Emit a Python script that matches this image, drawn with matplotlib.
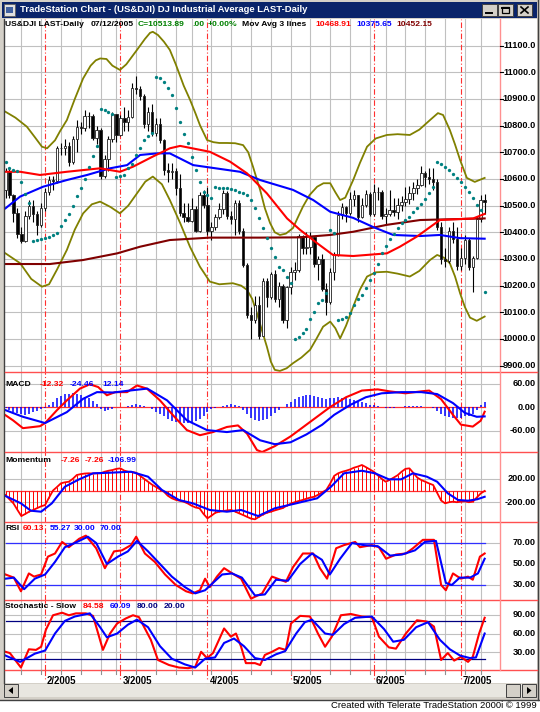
import numpy as np
import pandas as pd
import matplotlib
matplotlib.use("Agg")
import matplotlib.pyplot as plt
from matplotlib.patches import Rectangle, Polygon

plt.rcParams['font.family'] = ['Liberation Sans', 'DejaVu Sans']

W, H = 540, 712

# trading days shown (DJIA, 18 Jan - 12 Jul 2005)
holidays = ["2005-02-21", "2005-03-25", "2005-05-30", "2005-07-04"]
dates = pd.bdate_range("2005-01-18", "2005-07-12")
dates = dates[~dates.isin(pd.to_datetime(holidays))]

opens = [10558, 10629, 10540, 10471, 10393, 10369, 10462, 10499, 10467, 10427,
         10490, 10552, 10597, 10593, 10716, 10716, 10725, 10664, 10750, 10796,
         10791, 10837, 10835, 10754, 10785, 10611, 10674, 10749, 10842, 10766,
         10830, 10812, 10833, 10941, 10937, 10913, 10806, 10852, 10774, 10805,
         10745, 10633, 10626, 10630, 10565, 10471, 10456, 10443, 10486, 10406,
         10541, 10504, 10404, 10421, 10458, 10486, 10546, 10461, 10449, 10508,
         10404, 10279, 10088, 10071, 10127, 10012, 10219, 10158, 10242, 10151,
         10199, 10070, 10193, 10252, 10257, 10385, 10340, 10345, 10384, 10281,
         10300, 10189, 10140, 10252, 10313, 10464, 10493, 10472, 10524, 10538,
         10458, 10503, 10543, 10467, 10550, 10553, 10461, 10467, 10483, 10477,
         10503, 10513, 10523, 10548, 10566, 10579, 10623, 10609, 10600, 10588,
         10421, 10298, 10291, 10406, 10374, 10275, 10303, 10372, 10271, 10302,
         10449, 10520]
highs = [10640, 10640, 10545, 10490, 10420, 10480, 10520, 10520, 10480, 10510,
         10565, 10610, 10610, 10725, 10735, 10750, 10740, 10760, 10820, 10815,
         10860, 10850, 10845, 10800, 10790, 10690, 10760, 10850, 10845, 10840,
         10870, 10860, 10960, 10985, 10950, 10920, 10870, 10880, 10830, 10830,
         10750, 10660, 10660, 10640, 10620, 10510, 10510, 10530, 10500, 10550,
         10560, 10570, 10440, 10470, 10510, 10560, 10555, 10480, 10520, 10520,
         10415, 10285, 10120, 10160, 10160, 10230, 10230, 10250, 10260, 10215,
         10205, 10200, 10270, 10290, 10395, 10390, 10400, 10400, 10385, 10310,
         10320, 10210, 10265, 10325, 10480, 10510, 10500, 10550, 10560, 10540,
         10530, 10560, 10550, 10580, 10570, 10560, 10490, 10560, 10530, 10530,
         10535, 10570, 10575, 10590, 10600, 10650, 10630, 10640, 10640, 10600,
         10440, 10340, 10420, 10440, 10420, 10340, 10390, 10380, 10310, 10460,
         10540, 10545]
lows = [10530, 10530, 10440, 10380, 10360, 10365, 10450, 10440, 10390, 10420,
        10480, 10540, 10560, 10585, 10690, 10690, 10650, 10655, 10700, 10770,
        10780, 10790, 10745, 10730, 10600, 10605, 10630, 10740, 10740, 10760,
        10780, 10780, 10830, 10920, 10895, 10790, 10780, 10760, 10760, 10735,
        10615, 10590, 10600, 10540, 10460, 10440, 10440, 10440, 10400, 10400,
        10490, 10390, 10370, 10410, 10450, 10470, 10450, 10430, 10390, 10395,
        10270, 10080, 10000, 10060, 10000, 10010, 10120, 10150, 10140, 10120,
        10060, 10040, 10170, 10220, 10250, 10320, 10320, 10320, 10270, 10220,
        10180, 10090, 10130, 10220, 10310, 10450, 10440, 10465, 10500, 10440,
        10455, 10495, 10460, 10460, 10520, 10450, 10430, 10460, 10460, 10450,
        10480, 10500, 10505, 10520, 10545, 10575, 10570, 10580, 10560, 10410,
        10280, 10270, 10285, 10360, 10260, 10260, 10280, 10260, 10175, 10300,
        10440, 10470]
closes = [10629, 10540, 10471, 10393, 10369, 10462, 10499, 10467, 10427, 10490,
          10552, 10597, 10593, 10716, 10716, 10725, 10664, 10750, 10796, 10791,
          10837, 10835, 10754, 10785, 10611, 10674, 10749, 10842, 10766, 10830,
          10812, 10833, 10941, 10937, 10913, 10806, 10852, 10774, 10805, 10745,
          10633, 10626, 10630, 10565, 10471, 10456, 10443, 10486, 10406, 10541,
          10504, 10404, 10421, 10458, 10486, 10546, 10461, 10449, 10508, 10404,
          10279, 10088, 10071, 10127, 10012, 10219, 10158, 10242, 10151, 10199,
          10070, 10193, 10252, 10257, 10385, 10340, 10345, 10384, 10281, 10300,
          10189, 10140, 10252, 10313, 10464, 10493, 10472, 10524, 10538, 10458,
          10503, 10543, 10467, 10550, 10553, 10461, 10467, 10483, 10477, 10503,
          10513, 10523, 10548, 10566, 10579, 10623, 10609, 10600, 10588, 10421,
          10298, 10291, 10406, 10374, 10275, 10303, 10372, 10271, 10302, 10449,
          10520, 10514]

# parabolic SAR dots, one per bar
sar = [10665, 10642, 10635, 10630, 10588, 10545, 10509, 10368, 10371, 10374,
       10378, 10382, 10388, 10398, 10425, 10445, 10470, 10500, 10535, 10565,
       10600, 10645, 10685, 10725, 10862, 10858, 10852, 10845, 10609, 10611,
       10614, 10640, 10655, 10690, 10715, 10745, 10760, 10771, 10984, 10978,
       10965, 10941, 10915, 10866, 10814, 10770, 10735, 10684, 10634, 10590,
       10552, 10540, 10530, 10571, 10568, 10566, 10566, 10563, 10558, 10552,
       10546, 10540, 10521, 10491, 10454, 10416, 10378, 10341, 10309, 10271,
       10259, 10234, 10209, 9999, 10009, 10021, 10036, 10074, 10102, 10134,
       10146, 10172, 10409, 10398, 10070, 10074, 10083, 10098, 10127, 10150,
       10165, 10190, 10220, 10246, 10280, 10321, 10350, 10375, 10395, 10415,
       10434, 10445, 10459, 10475, 10490, 10505, 10525, 10546, 10570, 10662,
       10655, 10645, 10634, 10620, 10605, 10590, 10570, 10552, 10527, 10502,
       10485, 10177]

# bands and moving averages (bar index, value)
ub_x = [0, 2.5, 5.4, 7.5, 9.2, 10.5, 12.5, 13.8, 15.5, 17.5, 19.6, 21.5, 22.8, 23.9, 25.5, 27, 28.9, 30.5,
        33.2, 35.2, 36.5, 37.2, 38.5, 40, 41.5, 43, 45, 46.6, 48, 49.1, 50.9, 52.5, 54, 56, 58, 60, 61.3,
        62.5, 64.3, 65.5, 66.8, 68, 69.3, 70.8, 72.6, 73.8, 75.1, 76.8, 78.7, 80.3, 82, 83.3, 84.5, 85.8,
        87.8, 89.5, 91.3, 93.5, 96.3, 99, 102.1, 104.5, 107.2, 109.2, 110.5, 112.2, 113.5, 114.8, 116.5,
        118.5, 121]
ub_y = [10852, 10830, 10796, 10755, 10721, 10715, 10745, 10780, 10821, 10900, 10977, 11025, 11045, 11052,
        11050, 11025, 11009, 11030, 11084, 11125, 11148, 11152, 11140, 11115, 11084, 11030, 10950, 10897,
        10845, 10802, 10746, 10738, 10735, 10735, 10734, 10727, 10700, 10646, 10559, 10490, 10435, 10400,
        10390, 10395, 10416, 10455, 10496, 10540, 10571, 10584, 10584, 10550, 10521, 10530, 10596, 10660,
        10721, 10752, 10765, 10768, 10765, 10785, 10821, 10847, 10840, 10784, 10730, 10671, 10604, 10589,
        10604]
lb_x = [0, 3.7, 6.5, 9.2, 11, 13, 15.5, 17.5, 19.6, 21.8, 23.9, 26.5, 28.9, 31, 33.2, 35.3, 37.2, 39.5, 41.5,
        44.1, 46.6, 49.1, 51.6, 54, 57.4, 59.5, 61, 62.3, 63.5, 64.8, 66, 67, 68, 69.3, 71, 72.6, 74.7, 76.9,
        78.5, 80.2, 82, 83.3, 84.5, 86, 87.8, 89.5, 91.3, 93.5, 96.3, 99, 102.1, 104.5, 107.2, 109, 110.7,
        112.2, 113.5, 114.8, 116, 117.3, 119, 121]
lb_y = [10321, 10284, 10225, 10196, 10205, 10260, 10334, 10410, 10471, 10505, 10515, 10495, 10471, 10500,
        10546, 10590, 10609, 10580, 10521, 10435, 10345, 10271, 10215, 10205, 10209, 10200, 10184, 10150,
        10096, 10030, 9971, 9915, 9884, 9880, 9890, 9909, 9930, 9959, 10000, 10046, 10065, 10040, 10002,
        10050, 10121, 10185, 10234, 10250, 10252, 10245, 10234, 10255, 10296, 10315, 10305, 10284, 10235,
        10171, 10120, 10080, 10068, 10084]
mb_x = [0, 3.7, 9.5, 15.5, 20.6, 26.4, 30.7, 34, 38.3, 41.5, 47.4, 59.2, 64.3, 72.6, 77.7, 82, 87.8, 92.8, 97.9,
        104.7, 109.7, 114.8, 121]
mb_y = [10490, 10534, 10571, 10596, 10615, 10640, 10652, 10690, 10696, 10696, 10652, 10627, 10596, 10559, 10521,
        10477, 10454, 10420, 10390, 10386, 10390, 10378, 10376]
mr_x = [0, 3.7, 8.7, 15.5, 23.9, 28.9, 32.2, 37.2, 41.5, 44.1, 51.6, 56.7, 61, 66, 71.1, 74.4, 78.7, 82.7, 87.8,
        96.3, 99.6, 103.9, 108, 109.7, 118.1, 121]
mr_y = [10627, 10627, 10615, 10627, 10640, 10627, 10646, 10684, 10715, 10724, 10702, 10665, 10621, 10546, 10452,
        10409, 10359, 10315, 10311, 10321, 10346, 10384, 10428, 10446, 10452, 10469]
md_x = [0, 11.2, 19.6, 28.2, 34, 41.5, 51.6, 64.3, 74.4, 82, 87.8, 96.3, 104.7, 109.7, 121]
md_y = [10281, 10281, 10296, 10321, 10346, 10371, 10380, 10380, 10381, 10390, 10402, 10428, 10446, 10448, 10452]

# MACD
macd_x = [0, 1.9, 4.4, 8.7, 10, 13, 15.5, 18.8, 21.3, 23.4, 25.6, 27.7, 30.7, 33.2, 35.7, 39, 42.3, 45.8, 49.1,
          52.4, 55.9, 58.7, 61, 63.5, 64.8, 68, 72, 76, 80, 82, 86, 90, 94, 97, 101, 105, 107, 110, 113, 115, 118,
          120, 121]
macd_y = [-21, -34, -54, -49, -41, -8, 17, 47, 58, 51, 30, 38, 38, 55, 47, 17, -21, -59, -72, -64, -51, -47, -68,
          -110, -115, -100, -75, -45, -15, 0, 25, 42, 45, 40, 35, 40, 42, 20, -20, -45, -50, -35, -12]
sig_x = [0, 4.4, 10, 15.5, 19.6, 23.1, 27.2, 32.2, 35.8, 40.8, 45.8, 50.9, 55.9, 60, 64.3, 68, 72, 76, 80, 83,
         87, 91, 95, 100, 105, 109, 113, 116, 119, 121]
sig_y = [-8, -25, -41, -13, 21, 38, 37, 43, 47, 17, -34, -59, -64, -59, -85, -95, -90, -70, -45, -20, 5, 25, 35,
         38, 38, 33, 10, -15, -25, -24]
macd_hist = [-3, -8, -12, -15, -18, -20, -18, -14, -10, -6, -2, 6, 14, 22, 28, 32, 34, 35, 34, 30,
             26, 22, 16, 8, -6, -9, -8, -4, -1, 0, 1, 2, 5, 7, 6, 2, 0, -5, -12, -18,
             -24, -30, -35, -38, -40, -42, -42, -40, -36, -30, -22, -14, -6, -2, 0, 3, 6, 7, 5, 2,
             -8, -18, -28, -34, -36, -34, -30, -24, -16, -8, 0, 8, 14, 20, 26, 28, 30, 30, 28, 26,
             22, 20, 22, 24, 26, 24, 22, 20, 18, 14, 12, 10, 6, 4, 2, 0, -2, -3, -2, 0,
             1, 2, 3, 3, 2, 2, 1, 0, -2, -10, -18, -24, -26, -27, -28, -27, -24, -22, -18, -8,
             4, 12]

# Momentum (per bar) and its average
momentum = [-77, -150, -219, -330, -436, -400, -360, -333, -300, -270, -248, -120, 0, 60, 123, 140, 150, 200, 265, 280,
            290, 294, 290, 294, 294, 320, 338, 350, 370, 379, 340, 321, 315, 304, 250, 200, 150, 100, 60, 20,
            -20, -90, -133, -160, -175, -191, -220, -260, -290, -304, -400, -475, -430, -380, -362, -350, -340, -333, -360, -390,
            -419, -450, -480, -492, -450, -410, -380, -362, -340, -320, -300, -260, -225, -200, -180, -162, -140, -120, -106, -70,
            -30, 9, 120, 250, 294, 320, 338, 360, 390, 410, 436, 400, 360, 321, 260, 200, 150, 180, 220, 260,
            320, 370, 379, 300, 220, 179, 150, 120, 94, -40, -170, -219, -200, -191, -200, -190, -185, -200, -191, -120,
            -50, -7]
mom_x = [0, 3.9, 6.4, 9, 11.7, 15, 18.6, 22.1, 26.4, 31.7, 36, 39.5, 43.8, 47.3, 51.6, 55.9, 59.5, 63.8, 68, 73.4,
         78.7, 82.2, 85.5, 90, 93.3, 96.8, 99.9, 102.9, 106.4, 109, 111.7, 114.3, 116.8, 119.1, 121]
mom_y = [-94, -219, -345, -362, -219, 65, 191, 294, 304, 321, 236, 9, -162, -219, -333, -362, -333, -436, -304, -219,
         -133, 65, 294, 338, 294, 191, 191, 294, 236, 150, -48, -162, -174, -150, -107]

# RSI
rsi_x = [0, 2.1, 3.9, 5.9, 7.2, 9, 10.7, 12.5, 14.3, 16, 18.6, 20.3, 22.9, 25.1, 27.4, 29.4, 31.7, 33, 35.2, 37.7,
         40.3, 43, 45.6, 47.3, 49.1, 50.4, 51.6, 53.4, 55.2, 57.7, 59.5, 62, 64.8, 67.3, 70.8, 72.6, 75.1, 77.7, 79.4,
         81.2, 83.5, 85.5, 88.3, 89.5, 92.5, 94.3, 96.1, 98.6, 101.1, 102.9, 105.4, 108.2, 110, 111.2, 113, 115,
         116.8, 118, 119.8, 121]
rsi_y = [40, 37, 24, 41, 38, 40, 57, 60, 71, 66, 74, 77, 65, 46, 62, 63, 68, 76, 60, 52,
         40, 30, 24, 22, 25, 36, 28, 38, 46, 40, 36, 17, 22, 38, 33, 47, 60, 60, 46,
         36, 65, 68, 71, 66, 68, 66, 55, 59, 60, 65, 73, 73, 30, 25, 41, 36,
         38, 35, 57, 60]
rsa_x = [0, 2.1, 4.7, 7.4, 10, 12.5, 15, 17.5, 20.8, 22.9, 25.6, 28.4, 30.9, 33.2, 36, 39, 42, 45.3, 47.9, 50.4,
         52.1, 54.7, 57.2, 59.7, 63, 65.5, 68.3, 71.3, 74.4, 77.4, 79.9, 81.9, 84.5, 87.5, 90.5, 94, 97.1, 100.1,
         103.4, 105.9, 108.7, 111.2, 112.7, 114.7, 117.3, 119.3, 121]
rsa_y = [36, 37, 26, 36, 40, 52, 66, 70, 76, 70, 50, 57, 62, 72, 62, 50, 38, 28, 22, 25,
         31, 40, 41, 37, 20, 21, 35, 34, 50, 60, 54, 40, 55, 70, 68, 67, 58, 59,
         63, 71, 72, 32, 30, 37, 37, 41, 55]

# Stochastic slow
stk_x = [0, 1.1, 3.9, 5.9, 7.7, 9, 10.2, 12, 14.3, 16, 17.8, 20.3, 22.1, 23.4, 24.6, 26.4, 28.2, 30.4, 32.2, 33.7,
         35.2, 36.7, 38.5, 41.3, 43.8, 46.1, 47.9, 49.4, 50.9, 52.4, 55.2, 56.9, 58.2, 59.5, 60.7, 63, 64.3, 65.5,
         67.3, 69.1, 70.8, 72.1, 74.4, 76.9, 78.9, 80.7, 82.4, 84.7, 87.2, 90, 92.5, 94.3, 96.8, 98.6, 101.1, 103.9,
         106.4, 108.2, 110, 111.7, 113.3, 115, 116.8, 118, 119.6, 121]
stk_y = [31, 29, 6, 35, 34, 39, 66, 89, 93, 89, 92, 92, 88, 60, 34, 60, 76, 84, 89, 86,
         68, 50, 18, 10, 6, 5, 7, 31, 21, 29, 68, 55, 60, 39, 13, 13, 10, 26,
         31, 37, 34, 76, 88, 87, 60, 39, 55, 89, 91, 87, 86, 55, 38, 36, 60, 81,
         79, 71, 18, 29, 17, 23, 15, 23, 60, 85]
std_x = [0, 3.7, 7.4, 10, 12.5, 15, 17.5, 21.3, 23.9, 25.6, 28.2, 30.9, 33.2, 36, 39, 42, 45.3, 47.9, 50.4, 52.9,
         55.2, 57.7, 60.2, 63, 65.5, 68.3, 70.6, 73.4, 75.6, 77.4, 80.7, 82.7, 85.5, 88.3, 92.5, 95.6, 97.9, 100.6,
         103.7, 106.7, 109.7, 112.2, 114.8, 117.3, 118.8, 121]
std_y = [25, 15, 28, 33, 60, 80, 87, 92, 70, 54, 60, 74, 82, 70, 40, 20, 11, 6, 20, 22,
         45, 52, 40, 21, 18, 27, 32, 60, 78, 82, 60, 58, 75, 85, 87, 67, 47, 50,
         70, 78, 50, 35, 25, 21, 22, 60]

month_labels = ["2/2005", "3/2005", "4/2005", "5/2005", "6/2005", "7/2005"]

# ---------------------------------------------------------------- layout
fig = plt.figure(figsize=(W / 100, H / 100), dpi=100)
fig.patch.set_facecolor("white")
bg = fig.add_axes([0, 0, 1, 1], zorder=-10)
bg.set_xlim(0, W); bg.set_ylim(H, 0); bg.axis("off")
ov = fig.add_axes([0, 0, 1, 1], zorder=10)
ov.set_xlim(0, W); ov.set_ylim(H, 0); ov.axis("off"); ov.patch.set_alpha(0)

X0, X1 = 5, 500
STEP, OFF = 3.96, 5.5
xlim = ((X0 - OFF) / STEP, (X1 - OFF) / STEP)

panels = {
    "price": (19, 372, 9876, 11200),
    "macd": (372, 452, -114.9, 89.4),
    "mom": (452, 522, -538, 658),
    "rsi": (522, 600, 15.7, 90.0),
    "stoch": (600, 670, 2.1, 113.2),
}


def make_ax(name):
    y0, y1, lo, hi = panels[name]
    ax = fig.add_axes([X0 / W, 1 - y1 / H, (X1 - X0) / W, (y1 - y0) / H])
    ax.set_xlim(*xlim); ax.set_ylim(lo, hi)
    ax.axis("off")
    return ax


def ypx(name, v):
    y0, y1, lo, hi = panels[name]
    return y0 + (hi - v) / (hi - lo) * (y1 - y0)


idx = np.arange(len(dates))
week_start = [i for i in idx[1:] if dates[i].isocalendar()[1] != dates[i - 1].isocalendar()[1]]
month_start = [i for i in idx[1:] if dates[i].month != dates[i - 1].month]
GREY = "#C0C0C0"
RED = "#FF3030"
DASH = (0, (5, 2, 1, 2))

axes = {n: make_ax(n) for n in panels}
for name, ax in axes.items():
    for i in week_start:
        ax.axvline(i, color=GREY, lw=0.8, zorder=0)
    for i in month_start:
        if dates[i].weekday() != 0:
            ax.axvline(i, color=RED, lw=0.8, ls=DASH, zorder=0.5)

# ---------------------------------------------------------------- price
ax = axes["price"]
for p in range(9900, 11200, 100):
    ax.axhline(p, color=GREY, lw=0.8, zorder=0)
o = np.array(opens); c = np.array(closes)
ax.plot(ub_x, ub_y, color="#808000", lw=1.3, zorder=2)
ax.plot(lb_x, lb_y, color="#808000", lw=1.3, zorder=2)
ax.vlines(idx, lows, highs, color="black", lw=0.8, zorder=3)
ax.bar(idx, np.maximum(np.abs(c - o), 2), bottom=np.minimum(o, c), width=0.62,
       color=np.where(c >= o, "white", "black"), edgecolor="#202020", linewidth=0.6, zorder=4)
ax.plot(md_x, md_y, color="#800000", lw=1.5, zorder=5)
ax.plot(mb_x, mb_y, color="#0000FF", lw=1.5, zorder=5)
ax.plot(mr_x, mr_y, color="#FF0000", lw=1.5, zorder=5)
ax.plot(idx, sar, ls="none", marker="o", ms=2.4, mew=0, color="#008080", zorder=6)

# ---------------------------------------------------------------- MACD
ax = axes["macd"]
for v in (60, -60):
    ax.axhline(v, color=GREY, lw=0.8, zorder=0)
ax.plot([0, 121], [0, 0], color=RED, lw=0.9, zorder=1)
ax.vlines(idx, 0, macd_hist, color="#0000FF", lw=1.1, zorder=2)
ax.plot(macd_x, macd_y, color="#FF0000", lw=1.5, zorder=3)
ax.plot(sig_x, sig_y, color="#0000FF", lw=1.5, zorder=3)

# ---------------------------------------------------------------- Momentum
ax = axes["mom"]
for v in (200, -200):
    ax.axhline(v, color=GREY, lw=0.8, zorder=0)
ax.plot([0, 121], [0, 0], color=RED, lw=0.9, zorder=1)
ax.vlines(idx, 0, momentum, color="#FF0000", lw=0.7, zorder=2)
ax.plot(idx, momentum, color="#FF0000", lw=1.3, zorder=3)
ax.plot(mom_x, mom_y, color="#0000FF", lw=1.5, zorder=4)

# ---------------------------------------------------------------- RSI
ax = axes["rsi"]
for v in (70, 50, 30):
    ax.axhline(v, color=GREY, lw=0.8, zorder=0)
for v in (70, 30):
    ax.plot([0, 121], [v, v], color="#3030FF", lw=0.9, zorder=1)
ax.plot(rsi_x, rsi_y, color="#FF0000", lw=1.5, zorder=3)
ax.plot(rsa_x, rsa_y, color="#0000FF", lw=1.5, zorder=4)

# ---------------------------------------------------------------- Stochastic
ax = axes["stoch"]
for v in (90, 60, 30):
    ax.axhline(v, color=GREY, lw=0.8, zorder=0)
for v in (80, 20):
    ax.plot([0, 121], [v, v], color="#000080", lw=0.9, zorder=1)
ax.plot(stk_x, stk_y, color="#FF0000", lw=1.5, zorder=3)
ax.plot(std_x, std_y, color="#0000FF", lw=1.5, zorder=4)

# ---------------------------------------------------------------- window chrome
FACE = "#D4D0C8"
bg.add_patch(Rectangle((0, 0), 540, 700, fc=FACE, ec="none"))
bg.add_patch(Rectangle((4, 19), 533, 664, fc="white", ec="none"))
ov.plot([4, 4], [19, 683], color="#404040", lw=1.0)
ov.plot([537.5, 537.5], [0, 700], color="#404040", lw=1.0)
ov.plot([0, 540], [699.5, 699.5], color="#404040", lw=1.0)
ov.add_patch(Rectangle((2, 2), 535, 16, fc="#0A246A", ec="none"))
ov.add_patch(Rectangle((4, 4), 11, 12, fc="#E0E0E0", ec="#606060", lw=0.6))
ov.add_patch(Rectangle((6, 7), 7, 6, fc="#4060A0", ec="none"))
ov.text(20, 10, "TradeStation Chart - (US&DJI) DJ Industrial Average LAST-Daily",
        color="white", fontsize=6.8, fontweight="bold", va="center", ha="left")
for bx in (482, 498, 517):
    ov.add_patch(Rectangle((bx, 4), 15, 12, fc=FACE, ec="#404040", lw=0.7))
ov.plot([486, 492], [13, 13], color="black", lw=1.4)
ov.add_patch(Rectangle((502, 7), 7, 6, fc="none", ec="black", lw=0.9))
ov.plot([502, 509], [7.5, 7.5], color="black", lw=1.4)
ov.plot([521, 528], [7, 13], color="black", lw=1.2)
ov.plot([521, 528], [13, 7], color="black", lw=1.2)

# scroll bar
ov.add_patch(Rectangle((4, 684), 533, 13, fc="#E8E6E0", ec="none"))
for bx in (4, 506, 522):
    ov.add_patch(Rectangle((bx, 684), 14, 13, fc=FACE, ec="#404040", lw=0.7))
ov.add_patch(Polygon([[13, 687], [13, 694], [8.5, 690.5]], fc="black", ec="none"))
ov.add_patch(Polygon([[527, 687], [527, 694], [531.5, 690.5]], fc="black", ec="none"))

ov.text(537, 706, "Created with Telerate TradeStation 2000i \u00a9 1999", fontsize=6.8,
        ha="right", va="center", color="black")

# panel dividers and right edge
for y in (372, 452, 522, 600, 670):
    ov.plot([5, 537], [y, y], color="#FF5050", lw=1.0)
ov.plot([500, 500], [19, 670], color="#FF9090", lw=1.0)

# month / week ticks under the chart, date labels
for i, lab in zip(month_start, month_labels):
    xp = OFF + i * STEP
    ov.plot([xp, xp], [670, 679], color=RED, lw=0.8, ls=DASH)
    ov.text(xp + 2, 681, lab, fontsize=6.9, fontweight="bold", ha="left", va="center")
for i in week_start:
    xp = OFF + i * STEP
    ov.plot([xp, xp], [670, 674], color="#909090", lw=0.8)

# right axis labels
BOLD = dict(fontsize=6.6, fontweight="bold", va="center")
for p in range(9900, 11200, 100):
    yp = ypx("price", p)
    ov.plot([500, 503], [yp, yp], color="black", lw=0.8)
    ov.text(536, yp, "9900.00" if p == 9900 else f"{p:.1f}", ha="right", **BOLD)
for name, vals in (("macd", (60, 0, -60)), ("mom", (200, -200)),
                   ("rsi", (70, 50, 30)), ("stoch", (90, 60, 30))):
    for v in vals:
        ov.text(536, ypx(name, v), f"{v:.2f}", ha="right", **BOLD)

# legends


def legend(y, items):
    for xp, s, col in items:
        ov.text(xp, y, s, color=col, fontsize=6.1, fontweight="bold", ha="left", va="center")


GREEN = "#008000"
legend(25, [(5, "US&DJI LAST-Daily", "black"), (91, "07/12/2005", "black"),
            (138, "C=10513.89", GREEN), (192, ".00", GREEN), (208, "+0.00%", GREEN),
            (242, "Mov Avg 3 lines", "black"), (315, "10468.91", "#FF0000"),
            (356, "10375.65", "#0000FF"), (396, "10452.15", "#800000")])
legend(384, [(5, "MACD", "black"), (40, "-12.32", "#FF0000"), (70, "-24.46", "#0000FF"),
             (102, "12.14", "#0000FF")])
legend(460, [(5, "Momentum", "black"), (61, "-7.26", "#FF0000"), (85, "-7.26", "#FF0000"),
             (108, "-106.99", "#0000FF")])
legend(529, [(5, "RSI", "black"), (23, "60.13", "#FF0000"), (50, "55.27", "#0000FF"),
             (74, "30.00", "#0000FF"), (100, "70.00", "#0000FF")])
legend(607, [(5, "Stochastic - Slow", "black"), (83, "84.58", "#FF0000"), (110, "60.09", "#0000FF"),
             (137, "80.00", "#000080"), (164, "20.00", "#000080")])

fig.savefig("out.png", dpi=100)
